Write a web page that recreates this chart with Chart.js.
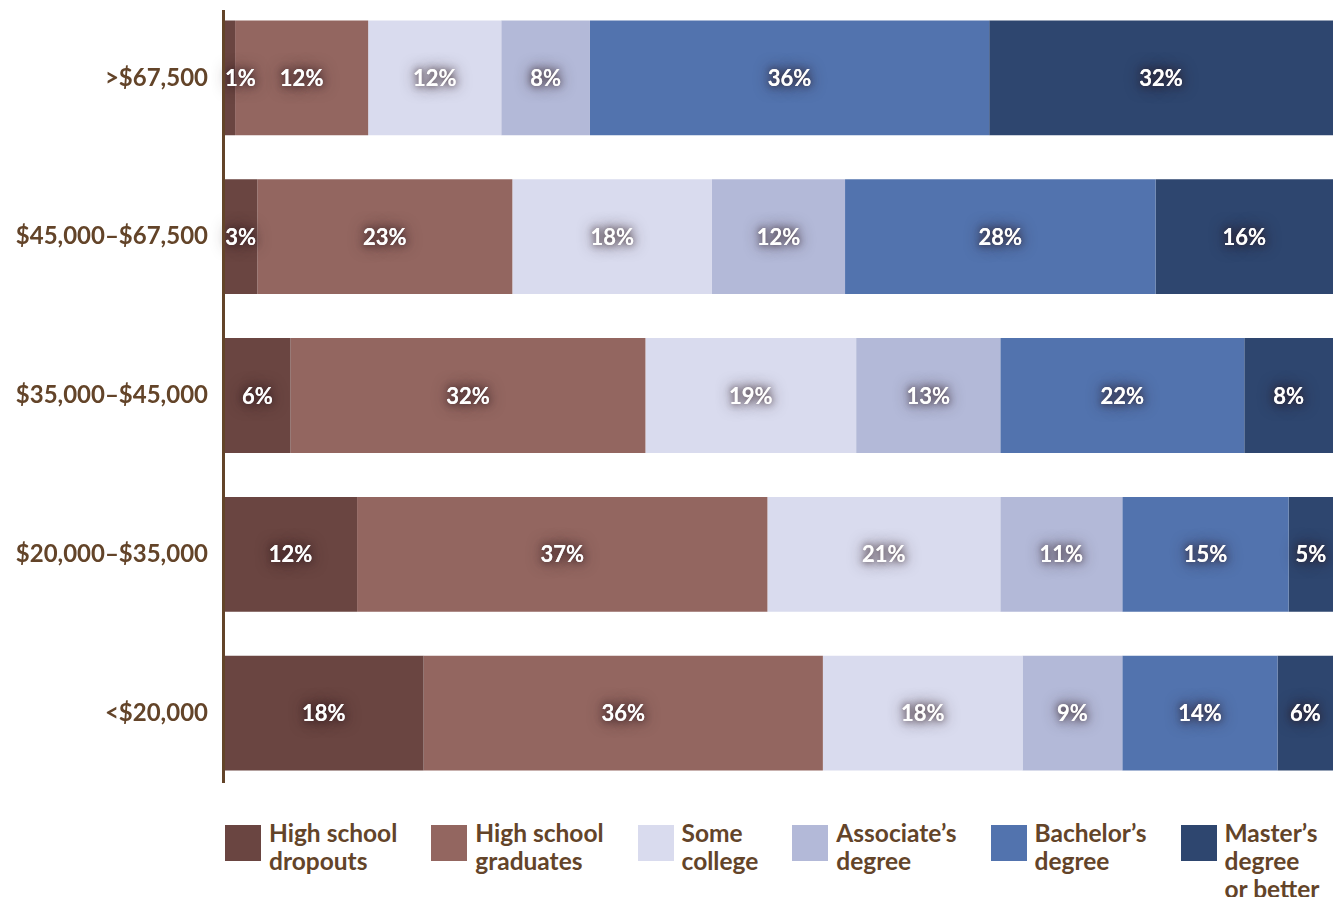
<!DOCTYPE html>
<html>
<head>
<meta charset="utf-8">
<script src="https://cdn.jsdelivr.net/npm/chart.js@4.4.1/dist/chart.umd.min.js"></script>
<style>
  html, body { margin: 0; padding: 0; background: #fff; }
  #wrap { position: relative; width: 1333px; height: 897px; overflow: hidden; }
  #chart { position: absolute; left: 0; top: -24px; }
  #legend {
    position: absolute; left: 225px; top: 819px;
    display: flex; gap: 34px;
    font-family: Lato, "Noto Sans", sans-serif; font-weight: bold;
    font-size: 24.5px; line-height: 28px; color: #634429;
  }
  .item { display: flex; align-items: flex-start; }
  .box { width: 36px; height: 36px; margin-top: 6px; margin-right: 8px; flex: none; }
</style>
</head>
<body>
<div id="wrap">
  <canvas id="chart" width="1333" height="839"></canvas>
  <div id="legend"></div>
</div>
<script>
const incomes = ['>$67,500', '$45,000\u2013$67,500', '$35,000\u2013$45,000', '$20,000\u2013$35,000', '<$20,000'];

const seriesNames = [
  ['High school', 'dropouts'],
  ['High school', 'graduates'],
  ['Some', 'college'],
  ['Associate\u2019s', 'degree'],
  ['Bachelor\u2019s', 'degree'],
  ['Master\u2019s', 'degree', 'or better']
];

const dropouts   = [1, 3, 6, 12, 18];
const graduates  = [12, 23, 32, 37, 36];
const someCollege = [12, 18, 19, 21, 18];
const associates = [8, 12, 13, 11, 9];
const bachelors  = [36, 28, 22, 15, 14];
const masters    = [32, 16, 8, 5, 6];

const colors = ['#6a4541', '#936660', '#d9dbee', '#b3b9d8', '#5273ae', '#2e466f'];
const brown = '#634429';

const allSeries = [dropouts, graduates, someCollege, associates, bachelors, masters];

const valueLabels = {
  id: 'valueLabels',
  afterDatasetsDraw(chart) {
    const ctx = chart.ctx;
    const area = chart.chartArea;
    ctx.save();
    ctx.font = 'bold 22px Lato, "Noto Sans", sans-serif';
    ctx.textAlign = 'center';
    ctx.textBaseline = 'middle';
    chart.data.datasets.forEach((ds, i) => {
      chart.getDatasetMeta(i).data.forEach((bar, j) => {
        const left = Math.max(bar.base, area.left);
        const right = Math.min(bar.x, area.right);
        const text = ds.data[j] + '%';
        const w = ctx.measureText(text).width;
        let cx = (left + right) / 2;
        cx = Math.max(cx, area.left + w / 2 + 1);
        ctx.shadowColor = 'rgba(45,25,30,0.85)';
        ctx.shadowBlur = 16;
        ctx.fillStyle = '#ffffff';
        ctx.fillText(text, cx, bar.y + 1);
        ctx.shadowBlur = 7;
        ctx.fillText(text, cx, bar.y + 1);
      });
    });
    // vertical axis line (page y 10..783)
    ctx.shadowBlur = 0;
    ctx.fillStyle = brown;
    ctx.fillRect(area.left - 2, 34, 3, 773);
    ctx.restore();
  }
};

const chart = new Chart(document.getElementById('chart'), {
  type: 'bar',
  data: {
    labels: incomes,
    datasets: allSeries.map((d, i) => ({
      label: seriesNames[i].join(' '),
      data: d,
      backgroundColor: colors[i],
      borderWidth: 0,
      categoryPercentage: 1,
      barPercentage: 0.723
    }))
  },
  options: {
    indexAxis: 'y',
    responsive: false,
    animation: false,
    layout: { padding: 0 },
    plugins: {
      legend: { display: false },
      tooltip: { enabled: false }
    },
    scales: {
      x: {
        stacked: true,
        min: 0,
        max: 100,
        display: false
      },
      y: {
        stacked: true,
        grid: { display: false },
        border: { display: false },
        afterFit(scale) { scale.width = 224; },
        ticks: {
          color: brown,
          padding: 8,
          font: { family: 'Lato, "Noto Sans", sans-serif', weight: 'bold', size: 24 }
        }
      }
    }
  },
  plugins: [valueLabels]
});

const legend = document.getElementById('legend');
chart.data.datasets.forEach((ds, i) => {
  const item = document.createElement('div');
  item.className = 'item';
  const box = document.createElement('div');
  box.className = 'box';
  box.style.background = ds.backgroundColor;
  const txt = document.createElement('div');
  txt.innerHTML = seriesNames[i].join('<br>');
  item.appendChild(box);
  item.appendChild(txt);
  legend.appendChild(item);
});
</script>
</body>
</html>
